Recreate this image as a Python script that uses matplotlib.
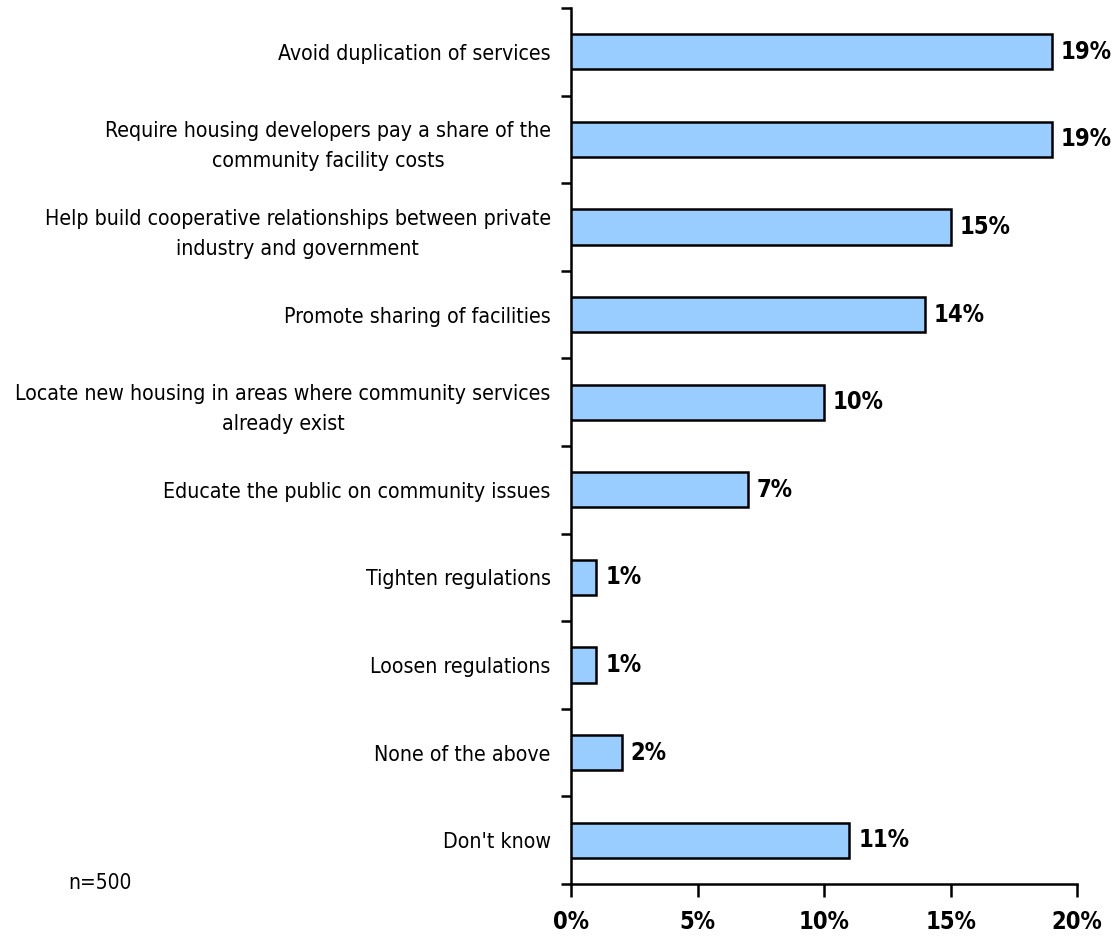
import matplotlib
matplotlib.use("Agg")
import matplotlib.pyplot as plt

categories = [
    "Avoid duplication of services",
    "Require housing developers pay a share of the\ncommunity facility costs",
    "Help build cooperative relationships between private\nindustry and government",
    "Promote sharing of facilities",
    "Locate new housing in areas where community services\nalready exist",
    "Educate the public on community issues",
    "Tighten regulations",
    "Loosen regulations",
    "None of the above",
    "Don't know",
]
values = [19, 19, 15, 14, 10, 7, 1, 1, 2, 11]
xticks = [0, 5, 10, 15, 20]
xtick_labels = ["0%", "5%", "10%", "15%", "20%"]
note = "n=500"

plt.rcParams['font.family'] = ['DejaVu Sans']
plt.rcParams['font.stretch'] = 'condensed'

fig = plt.figure(figsize=(11.17, 9.4), dpi=100)
ax = fig.add_axes([571/1117, 1-884/940, (1077-571)/1117, (884-8)/940])

n = len(categories)
ypos = list(range(n))
ax.barh(ypos, values, height=0.4, color="#99CCFF", edgecolor="black", linewidth=1.8, zorder=3)
ax.set_ylim(n - 0.5, -0.5)
ax.set_xlim(0, 20)

for y, v in zip(ypos, values):
    ax.text(v + 0.35, y, f"{v}%", va="center", ha="left", fontsize=17,
            fontweight="bold", fontstretch="condensed")

ax.set_yticks([i - 0.5 for i in range(n + 1)])
ax.set_yticklabels([])
ax.set_yticks(ypos, minor=True)
ax.set_yticklabels(categories, minor=True, fontsize=15.3, ha="right",
                   multialignment="center", linespacing=1.6, fontstretch="condensed")
ax.tick_params(axis="y", which="minor", length=0, pad=14.5)
ax.tick_params(axis="y", which="major", length=7, width=1.8, direction="out")

ax.set_xticks(xticks)
ax.set_xticklabels(xtick_labels, fontsize=17, fontweight="bold", fontstretch="condensed")
ax.tick_params(axis="x", length=9, width=1.8, direction="out", pad=10)

for s in ["top", "right"]:
    ax.spines[s].set_visible(False)
for s in ["left", "bottom"]:
    ax.spines[s].set_linewidth(1.8)

fig.text(68/1117, 1-883/940, note, fontsize=15, va="center", ha="left", fontstretch="condensed")

fig.savefig("out.png", dpi=100)
